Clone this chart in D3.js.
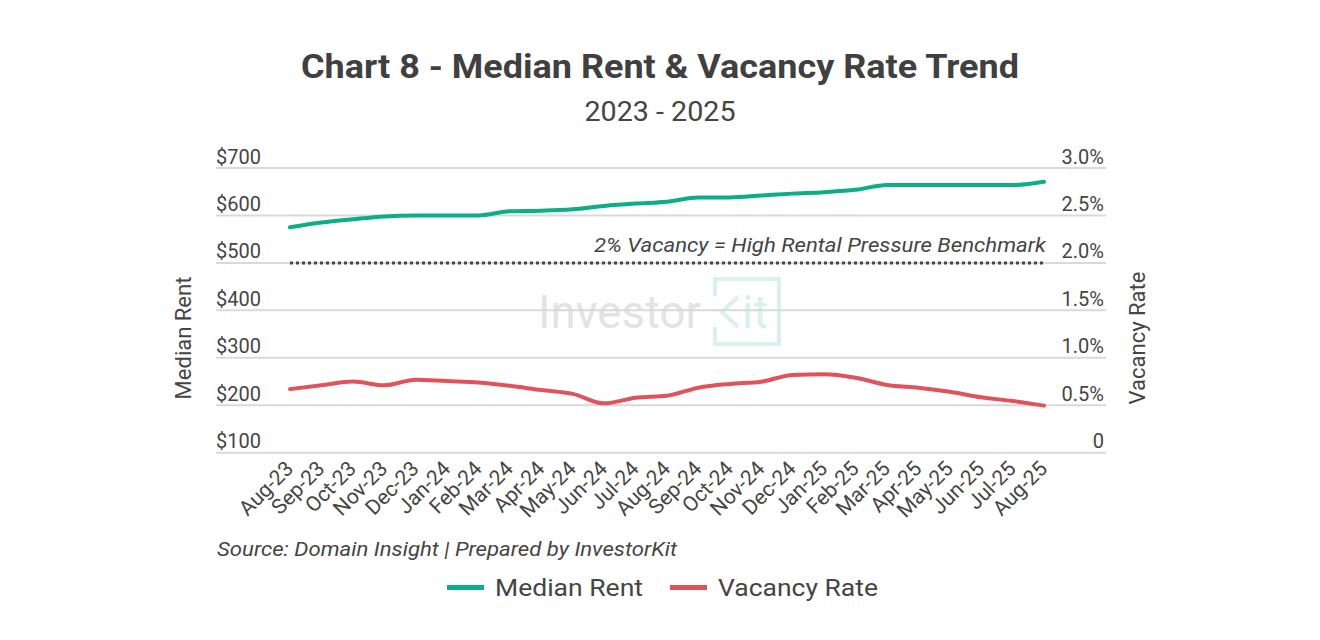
<!DOCTYPE html>
<html>
<head>
<meta charset="utf-8">
<script src="https://cdn.jsdelivr.net/npm/d3@7"></script>
<style>
  body { margin: 0; background: #fff; }
  text { font-family: Roboto, "Noto Sans", sans-serif; }
</style>
</head>
<body>
<script>
// chart values
const months = ["Aug-23", "Sep-23", "Oct-23", "Nov-23", "Dec-23", "Jan-24", "Feb-24", "Mar-24", "Apr-24",
  "May-24", "Jun-24", "Jul-24", "Aug-24", "Sep-24", "Oct-24", "Nov-24", "Dec-24", "Jan-25", "Feb-25",
  "Mar-25", "Apr-25", "May-25", "Jun-25", "Jul-25", "Aug-25"];
const medianRent = [575, 585, 592, 598, 600, 600, 600, 609, 610, 613, 620, 625, 629, 638, 638, 642,
  646, 649, 654, 664, 664, 664, 664, 664, 671];
const vacancyRate = [0.67, 0.71, 0.75, 0.71, 0.77, 0.755, 0.74, 0.705, 0.66, 0.62, 0.52, 0.58, 0.60,
  0.685, 0.725, 0.748, 0.82, 0.826, 0.79, 0.713, 0.685, 0.643, 0.584, 0.545, 0.496];
const rentTicks = [100, 200, 300, 400, 500, 600, 700];
const rateTicks = [0, 0.5, 1.0, 1.5, 2.0, 2.5, 3.0];
const benchmark = 2.0;

const W = 1320, H = 640;
const green = "#0bae86", red = "#e0535a", textCol = "#454545";

const svg = d3.select("body").append("svg")
  .attr("width", W).attr("height", H);

const x = d3.scalePoint().domain(months).range([290, 1044]);
const yL = d3.scaleLinear().domain([100, 700]).range([452.7, 168]);
const yR = d3.scaleLinear().domain([0, 3]).range([452.7, 168]);

// title
svg.append("text").attr("x", 660).attr("y", 78).attr("text-anchor", "middle")
  .attr("font-size", 34).attr("font-weight", 700).attr("fill", "#404040")
  .attr("textLength", 718).attr("lengthAdjust", "spacingAndGlyphs")
  .text("Chart 8 - Median Rent & Vacancy Rate Trend");
svg.append("text").attr("x", 660).attr("y", 121).attr("text-anchor", "middle")
  .attr("font-size", 28).attr("fill", textCol)
  .attr("textLength", 151).attr("lengthAdjust", "spacingAndGlyphs")
  .text("2023 - 2025");

// watermark
const wm = svg.append("g");
wm.append("text").attr("x", 538).attr("y", 328).attr("font-size", 46)
  .attr("fill", "#e3e3e3").attr("textLength", 163).attr("lengthAdjust", "spacingAndGlyphs")
  .text("Investor");
wm.append("path")
  .attr("d", "M715,296 V279 H779 V344 H715 V327")
  .attr("fill", "none").attr("stroke", "#d8f2ea").attr("stroke-width", 4);
wm.append("path")
  .attr("d", "M738,297 L722,312 L738,327")
  .attr("fill", "none").attr("stroke", "#d8f2ea").attr("stroke-width", 4);
wm.append("text").attr("x", 742).attr("y", 328).attr("font-size", 46)
  .attr("fill", "#d8f2ea").text("it");

// gridlines
svg.append("g").selectAll("line").data(rentTicks).join("line")
  .attr("x1", 216).attr("x2", 1106)
  .attr("y1", d => yL(d)).attr("y2", d => yL(d))
  .attr("stroke", "#d9d9d9").attr("stroke-width", 2);

// left axis
const axL = svg.append("g").attr("transform", "translate(216,0)")
  .call(d3.axisLeft(yL).tickValues(rentTicks).tickSize(0).tickFormat(d => "$" + d));
axL.select(".domain").remove();
axL.selectAll("text").attr("x", 0).attr("dy", -5).attr("text-anchor", "start")
  .attr("font-size", 20).attr("fill", textCol).attr("font-family", "Roboto");

// right axis
const axR = svg.append("g").attr("transform", "translate(1104,0)")
  .call(d3.axisRight(yR).tickValues(rateTicks).tickSize(0)
    .tickFormat(d => d === 0 ? "0" : d.toFixed(1) + "%"));
axR.select(".domain").remove();
axR.selectAll("text").attr("x", 0).attr("dy", -5).attr("text-anchor", "end")
  .attr("font-size", 20).attr("fill", textCol).attr("font-family", "Roboto");

// x axis labels
const axX = svg.append("g").attr("transform", "translate(0,470)")
  .call(d3.axisBottom(x).tickSize(0));
axX.select(".domain").remove();
axX.selectAll("text")
  .attr("font-size", 21).attr("fill", textCol).attr("font-family", "Roboto")
  .attr("text-anchor", "end").attr("dy", 0).attr("y", 0)
  .attr("transform", "translate(4,0) rotate(-45)");

// axis titles
svg.append("text").attr("transform", "translate(191,338) rotate(-90)")
  .attr("text-anchor", "middle").attr("font-size", 22).attr("fill", textCol)
  .text("Median Rent");
svg.append("text").attr("transform", "translate(1145,338) rotate(-90)")
  .attr("text-anchor", "middle").attr("font-size", 22).attr("fill", textCol)
  .text("Vacancy Rate");

// benchmark
svg.append("line")
  .attr("x1", x(months[0])).attr("x2", x(months[months.length - 1]) + 2)
  .attr("y1", yR(benchmark)).attr("y2", yR(benchmark))
  .attr("stroke", "#454545").attr("stroke-width", 3).attr("stroke-dasharray", "3 3");
svg.append("text").attr("x", 1046).attr("y", 252).attr("text-anchor", "end")
  .attr("font-size", 20).attr("font-style", "italic").attr("fill", textCol)
  .attr("textLength", 452).attr("lengthAdjust", "spacingAndGlyphs")
  .text("2% Vacancy = High Rental Pressure Benchmark");

// lines
const rentLine = d3.line().x((d, i) => x(months[i])).y(d => yL(d)).curve(d3.curveMonotoneX);
const rateLine = d3.line().x((d, i) => x(months[i])).y(d => yR(d)).curve(d3.curveMonotoneX);
svg.append("path").datum(medianRent).attr("d", rentLine)
  .attr("fill", "none").attr("stroke", green).attr("stroke-width", 4).attr("stroke-linecap", "round");
svg.append("path").datum(vacancyRate).attr("d", rateLine)
  .attr("fill", "none").attr("stroke", red).attr("stroke-width", 4).attr("stroke-linecap", "round");

// source
svg.append("text").attr("x", 217).attr("y", 556).attr("font-size", 20)
  .attr("font-style", "italic").attr("fill", textCol)
  .attr("textLength", 460).attr("lengthAdjust", "spacingAndGlyphs")
  .text("Source: Domain Insight | Prepared by InvestorKit");

// legend
const legend = [
  { name: "Median Rent", color: green, x: 447, w: 148 },
  { name: "Vacancy Rate", color: red, x: 670, w: 160 }
];
const lg = svg.append("g").selectAll("g").data(legend).join("g");
lg.append("rect").attr("x", d => d.x).attr("y", 585).attr("width", 37).attr("height", 5)
  .attr("fill", d => d.color);
lg.append("text").attr("x", d => d.x + 48).attr("y", 596).attr("font-size", 24)
  .attr("fill", textCol).attr("textLength", d => d.w).attr("lengthAdjust", "spacingAndGlyphs")
  .text(d => d.name);
</script>
</body>
</html>
